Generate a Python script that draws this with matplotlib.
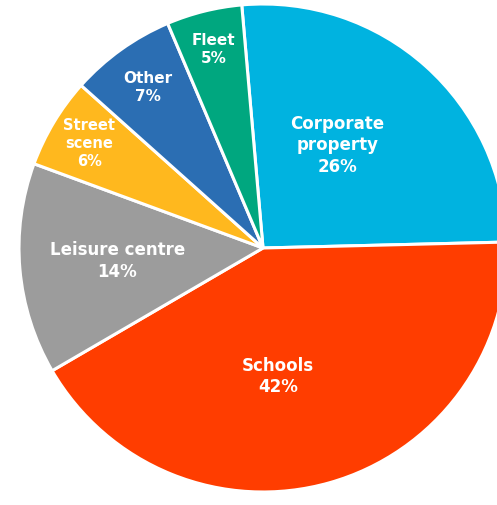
import numpy as np
import matplotlib
matplotlib.use("Agg")
import matplotlib.pyplot as plt

labels = ["Corporate\nproperty", "Schools", "Leisure centre", "Street\nscene", "Other", "Fleet"]
shares = [26, 42, 14, 6, 7, 5]
colors = ["#00B3E0", "#FF3D00", "#9C9C9C", "#FFB81E", "#2B6EB3", "#00A77F"]

# label placement: fraction of radius and small angle tweak (degrees)
label_dist = [0.52, 0.53, 0.60, 0.83, 0.81, 0.84]
label_shift = [6, -9, 0, 0, 0, 0]
label_size = [12, 12, 12, 10.5, 11, 11]

plt.rcParams["font.family"] = ["DejaVu Sans"]

fig = plt.figure(figsize=(4.97, 5.05), dpi=100)
ax = fig.add_axes([0, 0, 1, 1])

cx, cy, r = 263, 257, 244
wedges, _ = ax.pie(
    shares,
    colors=colors,
    startangle=95,
    counterclock=False,
    center=(cx, cy),
    radius=r,
    wedgeprops=dict(edgecolor="white", linewidth=2.2),
    frame=True,
)
ax.set_xlim(0, 497)
ax.set_ylim(0, 505)
ax.axis("off")

for w, lab, val, d, s, fs in zip(wedges, labels, shares, label_dist, label_shift, label_size):
    ang = np.deg2rad((w.theta1 + w.theta2) / 2 + s)
    x = cx + d * r * np.cos(ang)
    y = cy + d * r * np.sin(ang)
    ax.text(x, y, f"{lab}\n{val}%", ha="center", va="center", color="white",
            fontsize=fs, fontweight="bold", linespacing=1.25)

fig.savefig("out.png", dpi=100)
